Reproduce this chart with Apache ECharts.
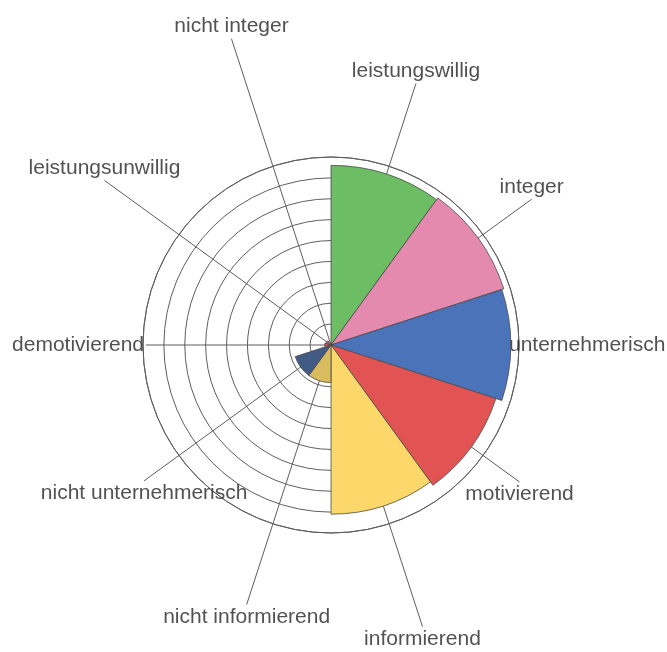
<!DOCTYPE html>
<html>
<head>
<meta charset="utf-8">
<script src="https://cdn.jsdelivr.net/npm/echarts@6/dist/echarts.min.js"></script>
<style>
  html, body { margin: 0; padding: 0; background: #fff; }
  #main { width: 667px; height: 652px; }
</style>
</head>
<body>
<div id="main"></div>
<script>
const categories = [
  'leistungswillig',
  'integer',
  'unternehmerisch',
  'motivierend',
  'informierend',
  'nicht informierend',
  'nicht unternehmerisch',
  'demotivierend',
  'leistungsunwillig',
  'nicht integer'
]
const values = [8.6, 8.7, 8.6, 8.3, 8.1, 1.8, 1.8, 0.3, 0.25, 0.1]
const ringMax = 9

// where the category labels sit (outer polar, 1 unit = 1px)
const labelRadius = [275, 248, 176, 233, 296, 273, 231, 185, 280, 322]
const labelSide = ['top', 'top', 'right', 'bottom', 'bottom', 'bottom', 'bottom', 'left', 'top', 'top']

const colorList = [
  '#6cbd63',
  '#e48aae',
  '#4a73ba',
  '#e25454',
  '#fcd86a',
  '#d9bc5e',
  '#425b85',
  '#d9505a',
  '#c9607a',
  '#d07090'
]
const center = [331, 345]
const gridColor = '#5e5e5e'

const chart = echarts.init(document.getElementById('main'))

const hidden = {
  axisLine: { show: false },
  axisTick: { show: false },
  axisLabel: { show: false },
  splitLine: { show: false }
}

// leader lines from the centre out to each label
const spokes = categories.map((c, i) => ({
  type: 'line',
  coordinateSystem: 'polar',
  polarIndex: 1,
  data: [[0, i], [labelRadius[i], i]],
  symbol: 'none',
  silent: true,
  lineStyle: { color: gridColor, width: 1 },
  z: 1
}))

const option = {
  animation: false,
  backgroundColor: '#fff',
  polar: [
    { center: center, radius: 188 },
    { center: center, radius: 340 }
  ],
  angleAxis: [
    {
      polarIndex: 0,
      type: 'category',
      data: categories,
      startAngle: 90,
      clockwise: true,
      axisLine: { show: true, lineStyle: { color: gridColor, width: 1 } },
      axisTick: { show: false },
      axisLabel: { show: false },
      splitLine: { show: false }
    },
    Object.assign({
      polarIndex: 1,
      type: 'category',
      data: categories,
      startAngle: 90,
      clockwise: true
    }, hidden)
  ],
  radiusAxis: [
    {
      polarIndex: 0,
      min: 0,
      max: ringMax,
      interval: 1,
      axisLine: { show: false },
      axisTick: { show: false },
      axisLabel: { show: false },
      splitLine: { show: true, lineStyle: { color: gridColor, width: 1 } }
    },
    Object.assign({ polarIndex: 1, min: 0, max: 340 }, hidden)
  ],
  series: [
    {
      type: 'bar',
      coordinateSystem: 'polar',
      polarIndex: 0,
      barCategoryGap: '0%',
      data: values.map((v, i) => ({ value: v, itemStyle: { color: colorList[i] } })),
      itemStyle: { borderColor: '#4a4a4a', borderWidth: 0.8 },
      silent: true,
      z: 3
    },
    ...spokes,
    {
      type: 'scatter',
      coordinateSystem: 'polar',
      polarIndex: 1,
      symbolSize: 0,
      silent: true,
      data: categories.map((c, i) => ({
        name: c,
        value: [labelRadius[i], i],
        label: { position: labelSide[i] }
      })),
      label: {
        show: true,
        formatter: '{b}',
        color: '#262626',
        fontSize: 21,
        fontFamily: 'Liberation Sans',
        distance: 2
      },
      z: 2
    }
  ]
}

chart.setOption(option)
</script>
</body>
</html>
